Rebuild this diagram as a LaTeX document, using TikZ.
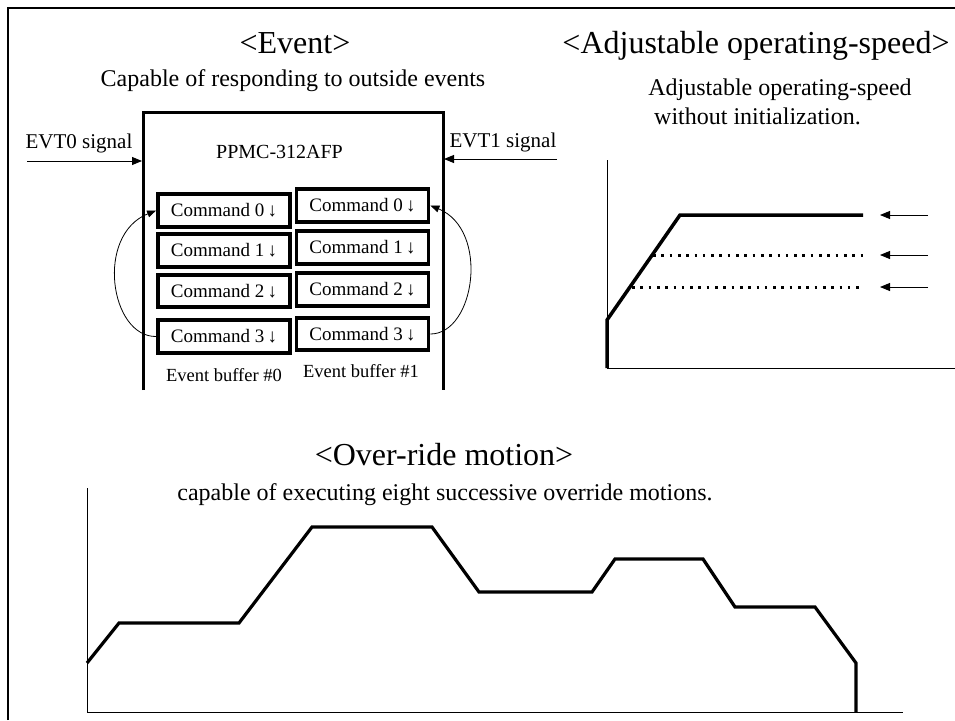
\documentclass[tikz,border=0pt]{standalone}
\usepackage{fontspec}
\setmainfont{Liberation Serif}
\usetikzlibrary{arrows.meta}
\begin{document}
\begin{tikzpicture}[x=1pt,y=-1pt,
  title/.style={anchor=base,inner sep=0,font=\fontsize{32}{36}\selectfont},
  sub/.style={anchor=base,inner sep=0,font=\fontsize{24}{28}\selectfont},
  sig/.style={anchor=base,inner sep=0,font=\fontsize{21}{24}\selectfont},
  lbl/.style={anchor=base,inner sep=0,font=\fontsize{18.5}{22}\selectfont},
  cmd/.style={draw,line width=3.8pt,minimum width=132pt,minimum height=32.5pt,inner sep=0,font=\fontsize{19}{22}\selectfont},
  thinarrow/.style={line width=0.9pt,-{Triangle[length=10pt,width=8pt]}},
  curvearrow/.style={line width=0.8pt,-{Triangle[length=9pt,width=7pt]}},
  axis/.style={line width=1pt},
  profile/.style={line width=3.5pt,line join=miter},
  dotline/.style={line width=3pt,dash pattern=on 2.6pt off 5.7pt}]
\useasboundingbox (0,0) rectangle (955,720);
% outer frame
\draw[line width=2.5pt] (8,720) -- (8,8) -- (955,8);

% ---- Event section
\node[title] (tev) at (295,53) {<Event>};
\node[sub] (sev) at (293,86) {Capable of responding to outside events};
\draw[line width=3pt] (143,390) -- (143,112) -- (443,112) -- (443,390);
\coordinate (chipL) at (142,161);
\coordinate (chipR) at (444,159);
\node[lbl,font=\fontsize{20}{24}\selectfont] (chip) at (279.5,158) {PPMC-312AFP};
\node[sig] (evt0) at (79,148) {EVT0 signal};
\node[sig] (evt1) at (503,147) {EVT1 signal};
\coordinate (e0s) at (27,161);
\coordinate (e1s) at (557,159);
\draw[thinarrow] (e0s) -- (chipL);
\draw[thinarrow] (e1s) -- (chipR);

\node[cmd] (L0) at (224,210.5) {Command 0\,↓};
\node[cmd] (L1) at (224,250.5) {Command 1\,↓};
\node[cmd] (L2) at (224,291) {Command 2\,↓};
\node[cmd] (L3) at (224,336.5) {Command 3\,↓};
\node[cmd] (R0) at (362.5,205.5) {Command 0\,↓};
\node[cmd] (R1) at (362.5,247.5) {Command 1\,↓};
\node[cmd] (R2) at (362.5,289.5) {Command 2\,↓};
\node[cmd] (R3) at (362.5,334) {Command 3\,↓};
\node[lbl] (eb0) at (224,381) {Event buffer \#0};
\node[lbl] (eb1) at (361,377) {Event buffer \#1};
\draw[curvearrow] (L3.west) .. controls (110,337) and (95,235) .. (L0.west);
\draw[curvearrow] (R3.east) .. controls (475,334) and (490,230) .. (R0.east);

% ---- Adjustable operating speed
\node[title] (tad) at (756,53) {<Adjustable operating-speed>};
\node[sub] (sad1) at (780,95) {Adjustable operating-speed};
\node[sub] (sad2) at (757.5,124) {without initialization.};
\draw[axis] (607,160) -- (607,368) -- (955,368);
\draw[profile] (607,368) -- (607,320) -- (680,215) -- (863,215);
\draw[dotline] (653,255) -- (863,255);
\draw[dotline] (632,287) -- (863,287);
\coordinate (a1s) at (928,215); \coordinate (a1e) at (880,215);
\coordinate (a2s) at (928,255); \coordinate (a2e) at (880,255);
\coordinate (a3s) at (928,287); \coordinate (a3e) at (880,287);
\draw[thinarrow] (a1s) -- (a1e);
\draw[thinarrow] (a2s) -- (a2e);
\draw[thinarrow] (a3s) -- (a3e);

% ---- Over-ride motion
\node[title] (tov) at (444,465) {<Over-ride motion>};
\node[sub] (sov) at (445,500) {capable of executing eight successive override motions.};
\draw[axis] (87,488) -- (87,712) -- (903,712);
\draw[profile,line width=3.2pt] (87,663) -- (119,623) -- (239,623) -- (312,527) -- (432,527)
  -- (479,592) -- (592,592) -- (615,559) -- (703,559) -- (735,607) -- (815,607)
  -- (856,663) -- (856,712);
\end{tikzpicture}
\end{document}
